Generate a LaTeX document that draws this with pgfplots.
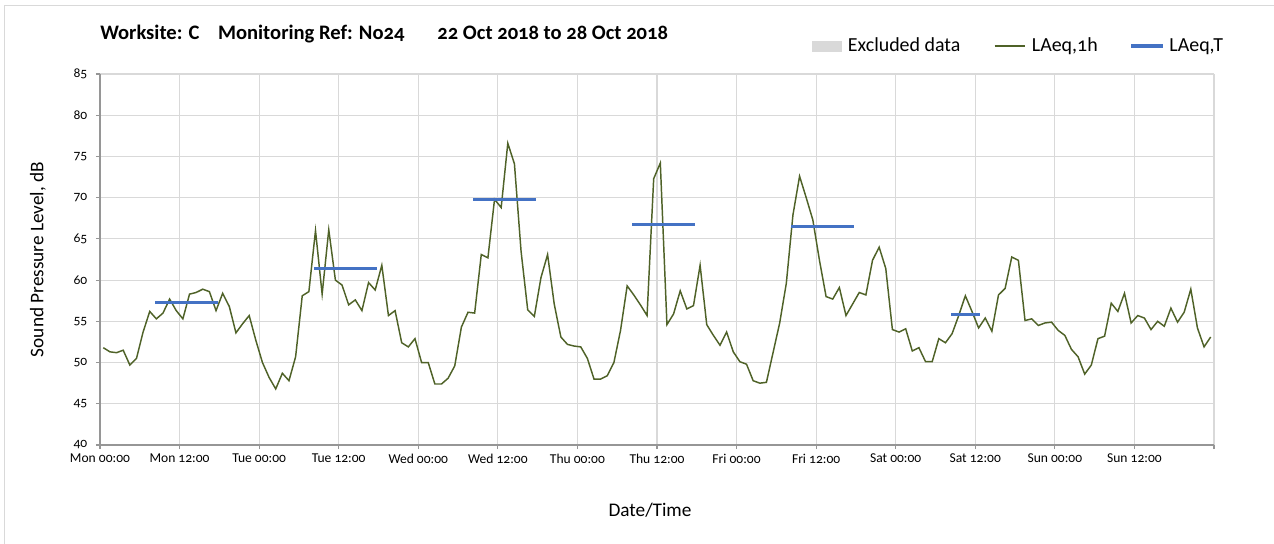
\documentclass[border=0pt]{standalone}
\usepackage{fontspec}
\setmainfont{Carlito}[Numbers=OldStyle]
\usepackage{pgfplots}
\usepackage{pgfplotstable}
\pgfplotsset{compat=1.18}

\definecolor{laeqgreen}{RGB}{79,98,40}
\definecolor{laeqblue}{RGB}{68,114,196}
\definecolor{gridgray}{RGB}{217,217,217}
\definecolor{axisgray}{RGB}{150,150,150}
\definecolor{exclgray}{RGB}{217,217,217}

% hourly LAeq,1h, plotted at the middle of each hour (hours from Mon 00:00)
\pgfplotstableread{
t L
0.5 51.8
1.5 51.3
2.5 51.2
3.5 51.5
4.5 49.7
5.5 50.5
6.5 53.7
7.5 56.2
8.5 55.3
9.5 56.0
10.5 57.7
11.5 56.3
12.5 55.3
13.5 58.3
14.5 58.5
15.5 58.9
16.5 58.6
17.5 56.3
18.5 58.4
19.5 56.8
20.5 53.6
21.5 54.7
22.5 55.7
23.5 52.7
24.5 50.0
25.5 48.2
26.5 46.8
27.5 48.7
28.5 47.8
29.5 50.7
30.5 58.1
31.5 58.6
32.5 66.0
33.5 58.3
34.5 66.1
35.5 60.0
36.5 59.4
37.5 57.0
38.5 57.6
39.5 56.3
40.5 59.7
41.5 58.8
42.5 61.8
43.5 55.7
44.5 56.3
45.5 52.4
46.5 51.9
47.5 52.9
48.5 50.0
49.5 50.0
50.5 47.4
51.5 47.4
52.5 48.1
53.5 49.6
54.5 54.3
55.5 56.1
56.5 56.0
57.5 63.1
58.5 62.7
59.5 69.8
60.5 68.8
61.5 76.6
62.5 74.1
63.5 63.5
64.5 56.4
65.5 55.6
66.5 60.3
67.5 63.1
68.5 57.1
69.5 53.1
70.5 52.2
71.5 52.0
72.5 51.9
73.5 50.5
74.5 48.0
75.5 48.0
76.5 48.4
77.5 50.0
78.5 53.9
79.5 59.3
80.5 58.2
81.5 57.0
82.5 55.7
83.5 72.3
84.5 74.2
85.5 54.6
86.5 55.9
87.5 58.7
88.5 56.5
89.5 56.9
90.5 61.8
91.5 54.6
92.5 53.3
93.5 52.1
94.5 53.7
95.5 51.3
96.5 50.1
97.5 49.8
98.5 47.8
99.5 47.5
100.5 47.6
101.5 51.2
102.5 54.8
103.5 59.6
104.5 67.9
105.5 72.6
106.5 70.0
107.5 67.3
108.5 62.4
109.5 58.0
110.5 57.7
111.5 59.1
112.5 55.7
113.5 57.1
114.5 58.5
115.5 58.2
116.5 62.4
117.5 64.0
118.5 61.4
119.5 54.0
120.5 53.7
121.5 54.1
122.5 51.4
123.5 51.8
124.5 50.1
125.5 50.1
126.5 52.9
127.5 52.4
128.5 53.5
129.5 55.7
130.5 58.1
131.5 56.2
132.5 54.2
133.5 55.4
134.5 53.8
135.5 58.2
136.5 59.0
137.5 62.8
138.5 62.4
139.5 55.1
140.5 55.3
141.5 54.5
142.5 54.8
143.5 54.9
144.5 53.9
145.5 53.3
146.5 51.6
147.5 50.7
148.5 48.6
149.5 49.7
150.5 52.9
151.5 53.2
152.5 57.2
153.5 56.2
154.5 58.4
155.5 54.8
156.5 55.7
157.5 55.4
158.5 54.0
159.5 55.0
160.5 54.4
161.5 56.6
162.5 54.9
163.5 56.1
164.5 58.9
165.5 54.2
166.5 51.9
167.5 53.1
}\hourly

\begin{document}
\begin{tikzpicture}
\useasboundingbox (0,0) rectangle (955.5bp,408bp);
\draw[gridgray, line width=0.8bp] (3.4bp,0) -- (3.4bp,403.9bp) -- (955.5bp,403.9bp);
\begin{axis}[
  at={(75bp,74.25bp)}, anchor=south west,
  scale only axis, width=835.5bp, height=278.25bp,
  xmin=0, xmax=168, ymin=40, ymax=85,
  xtick={0,12,...,168},
  xticklabels={Mon 00:00, Mon 12:00, Tue 00:00, Tue 12:00, Wed 00:00, Wed 12:00,
    Thu 00:00, Thu 12:00, Fri 00:00, Fri 12:00, Sat 00:00, Sat 12:00,
    Sun 00:00, Sun 12:00, {}},
  ytick={40,45,...,85},
  /pgf/number format/assume math mode=true,
  axis lines*=left,
  axis line style={-, axisgray, line width=0.8bp},
  tick align=outside,
  major tick length=3bp,
  tick style={axisgray, line width=0.8bp},
  grid=major,
  major grid style={gridgray, line width=0.9bp},
  ticklabel style={font=\fontsize{10.2}{12}\selectfont, text=black},
  yticklabel style={xshift=-3bp},
  xlabel={Date/Time},
  ylabel={Sound Pressure Level, dB},
  label style={font=\fontsize{14.5}{17}\selectfont},
  xlabel style={at={(axis description cs:0.4937,-0.175)}, anchor=center},
  ylabel style={at={(axis description cs:-0.0557,0.5)}, anchor=center, rotate=0},
  title={\textbf{Worksite: C\hspace{0.9em}Monitoring Ref: No24\hspace{1.6em}22 Oct 2018 to 28 Oct 2018}},
  title style={at={(axis description cs:0,1.0863)}, anchor=west, inner xsep=0pt,
    font=\fontsize{15.5}{18}\selectfont},
  legend style={at={(axis description cs:1.0108,1.0755)}, anchor=east,
    draw=none, fill=none, font=\fontsize{15}{18}\selectfont,
    legend columns=-1, inner sep=0pt,
    /tikz/every odd column/.append style={column sep=2.5bp},
    /tikz/every even column/.append style={column sep=23bp}},
  unbounded coords=jump,
]
\addlegendimage{legend image code/.code={\fill[exclgray] (0bp,-3.75bp) rectangle (21.75bp,3.75bp);}}
\addlegendentry{Excluded data}

\addplot[laeqgreen, line width=1.1bp, mark=none,
  legend image code/.code={\draw[laeqgreen, line width=1.1bp] (0bp,0bp) -- (23bp,0bp);}]
  table[x=t, y=L] {\hourly};
\addlegendentry{LAeq,1h}

% LAeq,T per daytime period
\addplot[laeqblue, line width=2.3bp, line cap=rect, mark=none,
  legend image code/.code={\draw[laeqblue, line width=2.3bp] (0bp,0bp) -- (22bp,0bp);}]
  coordinates {
    (8.5,57.3) (17.5,57.3) (18,nan)
    (32.5,61.4) (41.5,61.4) (42,nan)
    (56.5,69.8) (65.5,69.8) (66,nan)
    (80.5,66.7) (89.5,66.7) (90,nan)
    (104.5,66.5) (113.5,66.5) (114,nan)
    (128.5,55.8) (132.5,55.8)
  };
\addlegendentry{LAeq,T}
\end{axis}
\end{tikzpicture}
\end{document}
